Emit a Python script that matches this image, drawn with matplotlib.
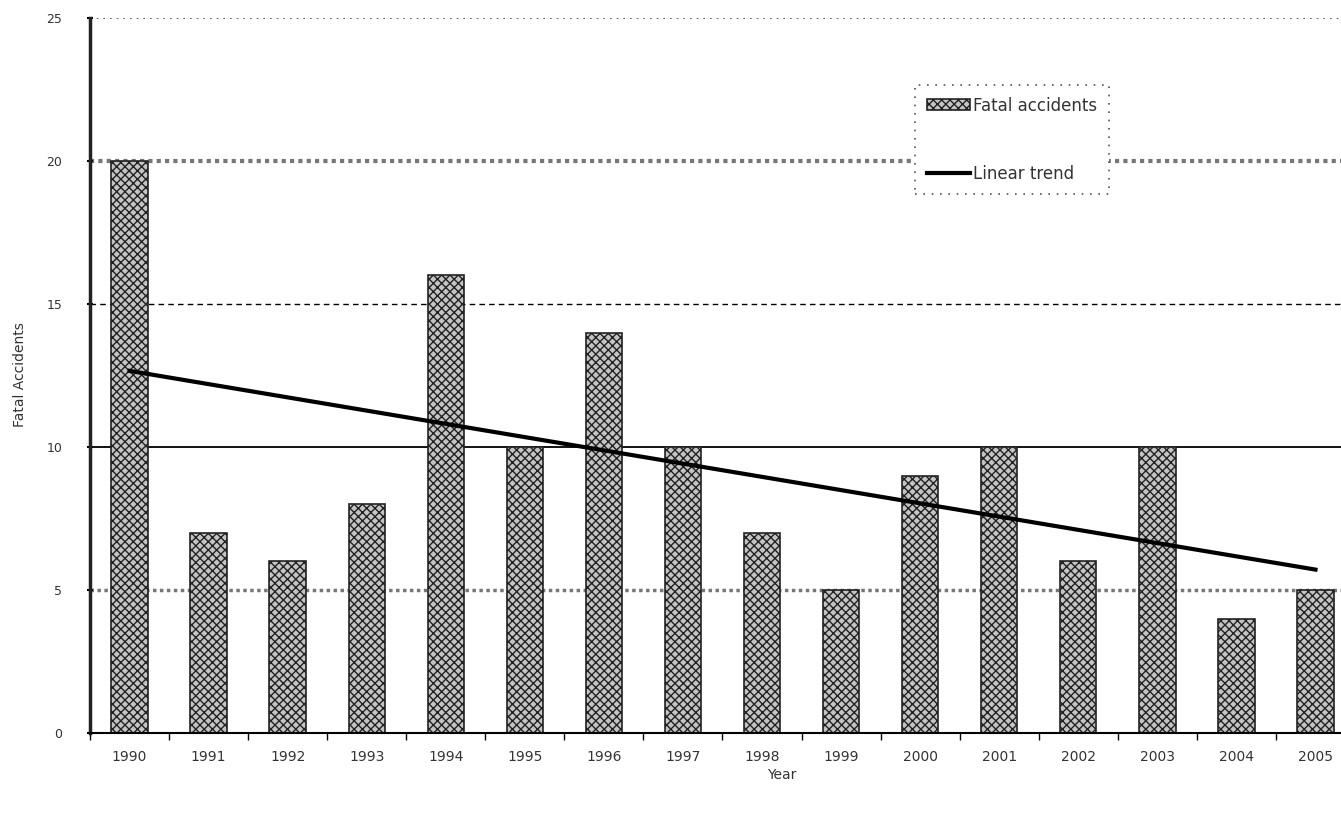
import matplotlib
matplotlib.use("Agg")
import matplotlib.pyplot as plt
import numpy as np

years = ["1990", "1991", "1992", "1993", "1994", "1995", "1996", "1997",
         "1998", "1999", "2000", "2001", "2002", "2003", "2004", "2005"]
fatal_accidents = [20, 7, 6, 8, 16, 10, 14, 10, 7, 5, 9, 10, 6, 10, 4, 5]
y_ticks = [0, 5, 10, 15, 20, 25]

plt.rcParams['font.family'] = ['DejaVu Sans']
plt.rcParams['hatch.color'] = '#555555'
plt.rcParams['hatch.linewidth'] = 1.0

fig = plt.figure(figsize=(13.41, 8.14), dpi=100)
W, H = 1341, 814
left, right, top, bottom = 90, 1355, 18, 733
ax = fig.add_axes([left / W, 1 - bottom / H, (right - left) / W, (bottom - top) / H])

x = np.arange(len(years))
ax.set_xlim(-0.5, len(years) - 0.5)
ax.set_ylim(0, 25)

# gridlines
ax.axhline(25, color='#444444', lw=1.2, ls=(0, (1, 3)), zorder=1)
ax.axhline(20, color='#777777', lw=3, ls=(0, (1, 1)), zorder=1)
ax.axhline(15, color='black', lw=1.0, ls=(0, (4, 3)), zorder=1)
ax.axhline(10, color='black', lw=1.3, ls='-', zorder=1)
ax.axhline(5, color='#777777', lw=2.5, ls=(0, (1, 1)), zorder=1)

bars = ax.bar(x, fatal_accidents, width=0.46, facecolor='#c4c4c4',
              edgecolor='#222222', linewidth=1.2, hatch='xxxx', zorder=2,
              label='Fatal accidents')

coef = np.polyfit(x, fatal_accidents, 1)
trend = np.polyval(coef, x)
line, = ax.plot(x, trend, color='black', lw=3, zorder=3, label='Linear trend')

ax.set_xticks(x)
ax.set_xticklabels(years, fontsize=10, color='#333333')
ax.set_xticks(np.arange(-0.5, len(years), 1), minor=True)
ax.tick_params(axis='x', which='major', length=0, pad=12)
ax.tick_params(axis='x', which='minor', length=5, width=1, direction='out')
ax.set_yticks(y_ticks)
ax.set_yticklabels([str(v) for v in y_ticks], fontsize=9, color='#333333')
ax.tick_params(axis='y', length=4, width=1.5, direction='inout', pad=18)

for s in ['top', 'right']:
    ax.spines[s].set_visible(False)
ax.spines['left'].set_linewidth(2.5)
ax.spines['left'].set_color('#222222')
ax.spines['bottom'].set_linewidth(1.5)

fig.text(20 / W, 1 - 375 / H, "Fatal Accidents", rotation=90, ha='center',
         va='center', fontsize=10, color='#333333')
fig.text(782 / W, 1 - 775 / H, "Year", ha='center', va='center',
         fontsize=10, color='#333333')

leg = ax.legend(handles=[bars, line], loc='upper left',
                bbox_to_anchor=((915 - left) / (right - left), (bottom - 85) / (bottom - top)),
                prop={'size': 12}, frameon=True, fancybox=False, handlelength=2.6,
                handleheight=0.6, handletextpad=0.2, labelspacing=3.0,
                borderpad=0.7, borderaxespad=0)
for t in leg.get_texts():
    t.set_color('#333333')
leg.get_frame().set_edgecolor('#555555')
leg.get_frame().set_linestyle((0, (1, 4)))
leg.get_frame().set_linewidth(1.2)
leg.get_frame().set_facecolor('white')
leg.get_frame().set_alpha(1)

fig.savefig("out.png", dpi=100)
